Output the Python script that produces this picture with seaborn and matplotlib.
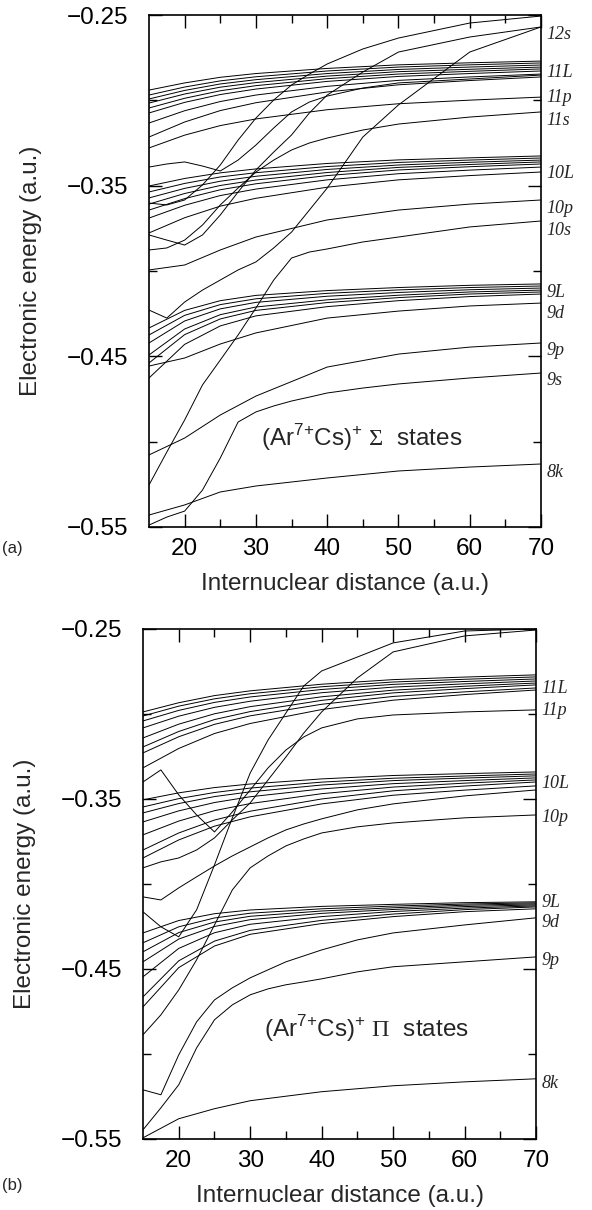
import matplotlib
matplotlib.use("Agg")
import matplotlib.pyplot as plt
import matplotlib.transforms as mtransforms
import pandas as pd
import seaborn as sns

# Internuclear distance grids (a.u.)
R_M = [15, 20, 25, 30, 40, 50, 60, 70]
R_S = [15, 17.5, 20, 22.5, 25, 27.5, 30, 32.5, 35, 37.5, 40, 45, 50, 60, 70]

# ---------------- (a) Sigma states (energies in a.u.) ----------------
SIGMA_N11 = [
    [-0.2940, -0.2898, -0.2865, -0.2843, -0.2813, -0.2792, -0.2780, -0.2770],
    [-0.2969, -0.2922, -0.2886, -0.2862, -0.2828, -0.2805, -0.2792, -0.2781],
    [-0.2992, -0.2942, -0.2904, -0.2879, -0.2843, -0.2819, -0.2805, -0.2793],
    [-0.3016, -0.2963, -0.2923, -0.2896, -0.2858, -0.2832, -0.2818, -0.2805],
    [-0.3045, -0.2988, -0.2944, -0.2914, -0.2873, -0.2846, -0.2830, -0.2816],
    [-0.3074, -0.3012, -0.2966, -0.2934, -0.2889, -0.2860, -0.2843, -0.2828],
    [-0.3133, -0.3061, -0.3007, -0.2969, -0.2918, -0.2883, -0.2863, -0.2846],
    [-0.3215, -0.3127, -0.3060, -0.3014, -0.2951, -0.2909, -0.2884, -0.2863],
    [-0.3279, -0.3204, -0.3148, -0.3109, -0.3055, -0.3020, -0.2999, -0.2981],
]
SIGMA_N10 = [
    [-0.3502, -0.3458, -0.3425, -0.3402, -0.3370, -0.3349, -0.3337, -0.3326],
    [-0.3537, -0.3487, -0.3449, -0.3424, -0.3388, -0.3364, -0.3350, -0.3338],
    [-0.3572, -0.3516, -0.3474, -0.3445, -0.3405, -0.3379, -0.3363, -0.3350],
    [-0.3608, -0.3546, -0.3499, -0.3467, -0.3423, -0.3393, -0.3376, -0.3361],
    [-0.3643, -0.3576, -0.3524, -0.3489, -0.3441, -0.3408, -0.3389, -0.3373],
    [-0.3690, -0.3615, -0.3558, -0.3520, -0.3466, -0.3430, -0.3409, -0.3391],
    [-0.3777, -0.3688, -0.3620, -0.3574, -0.3509, -0.3466, -0.3441, -0.3420],
    [-0.3994, -0.3965, -0.3877, -0.3801, -0.3701, -0.3643, -0.3608, -0.3584],
]
SIGMA_N9 = [
    [-0.4334, -0.4231, -0.4174, -0.4143, -0.4115, -0.4097, -0.4084, -0.4076],
    [-0.4375, -0.4260, -0.4197, -0.4163, -0.4131, -0.4111, -0.4097, -0.4088],
    [-0.4422, -0.4293, -0.4222, -0.4184, -0.4148, -0.4126, -0.4110, -0.4100],
    [-0.4492, -0.4340, -0.4256, -0.4211, -0.4169, -0.4142, -0.4123, -0.4112],
    [-0.4539, -0.4373, -0.4281, -0.4231, -0.4185, -0.4156, -0.4135, -0.4123],
    [-0.4627, -0.4430, -0.4322, -0.4263, -0.4209, -0.4174, -0.4150, -0.4135],
    [-0.4557, -0.4510, -0.4428, -0.4363, -0.4276, -0.4235, -0.4205, -0.4188],
    [-0.5078, -0.4979, -0.4844, -0.4733, -0.4563, -0.4487, -0.4446, -0.4422],
]
SIGMA_8K = [-0.5430, -0.5371, -0.5295, -0.5260, -0.5213, -0.5172, -0.5149, -0.5131]
SIGMA_STEEP = [
    [-0.5489, -0.5442, -0.5407, -0.5284, -0.5096, -0.4885, -0.4826, -0.4791,
     -0.4762, -0.4739, -0.4715, -0.4686, -0.4662, -0.4627, -0.4598],
    [-0.5254, -0.5061, -0.4873, -0.4668, -0.4522, -0.4375, -0.4217, -0.4053,
     -0.3924, -0.3889, -0.3871, -0.3830, -0.3801, -0.3742, -0.3707],
    [-0.3877, -0.3865, -0.3819, -0.3731, -0.3613, -0.3514, -0.3420, -0.3350,
     -0.3291, -0.3250, -0.3221, -0.3174, -0.3139, -0.3098, -0.3068],
    [-0.3391, -0.3373, -0.3361, -0.3385, -0.3414, -0.3350, -0.3262, -0.3162,
     -0.3068, -0.3010, -0.2975, -0.2928, -0.2898, -0.2875, -0.2852],
    [-0.3602, -0.3613, -0.3584, -0.3496, -0.3379, -0.3233, -0.3104, -0.2998,
     -0.2910, -0.2846, -0.2787, -0.2699, -0.2635, -0.2547, -0.2506],
    [-0.3789, -0.3819, -0.3848, -0.3789, -0.3672, -0.3537, -0.3408, -0.3303,
     -0.3203, -0.3074, -0.2969, -0.2834, -0.2717, -0.2629, -0.2570],
    [-0.4229, -0.4276, -0.4182, -0.4112, -0.4053, -0.3994, -0.3947, -0.3865,
     -0.3772, -0.3643, -0.3514, -0.3215, -0.3027, -0.2717, -0.2570],
]
SIGMA_LABELS = ["12s", "11L", "11p", "11s", "10L", "10p", "10s",
                "9L", "9d", "9p", "9s", "8k"]
SIGMA_LABEL_E = [-0.2641, -0.2863, -0.3010, -0.3145, -0.3455, -0.3660, -0.3789,
                 -0.4153, -0.4276, -0.4492, -0.4668, -0.5207]

# ---------------- (b) Pi states (energies in a.u.) ----------------
PI_N11 = [
    [-0.2988, -0.2934, -0.2892, -0.2864, -0.2825, -0.2798, -0.2783, -0.2770],
    [-0.3012, -0.2954, -0.2911, -0.2881, -0.2840, -0.2812, -0.2796, -0.2782],
    [-0.3041, -0.2979, -0.2932, -0.2900, -0.2856, -0.2826, -0.2809, -0.2794],
    [-0.3082, -0.3013, -0.2961, -0.2925, -0.2875, -0.2842, -0.2823, -0.2806],
    [-0.3141, -0.3060, -0.2999, -0.2957, -0.2899, -0.2860, -0.2837, -0.2818],
    [-0.3194, -0.3103, -0.3033, -0.2986, -0.2920, -0.2876, -0.2851, -0.2829],
    [-0.3229, -0.3134, -0.3061, -0.3011, -0.2943, -0.2897, -0.2870, -0.2847],
    [-0.3317, -0.3203, -0.3115, -0.3056, -0.2974, -0.2919, -0.2886, -0.2859],
]
PI_N10 = [
    [-0.3505, -0.3464, -0.3433, -0.3412, -0.3382, -0.3362, -0.3351, -0.3341],
    [-0.3547, -0.3498, -0.3462, -0.3436, -0.3401, -0.3378, -0.3365, -0.3353],
    [-0.3582, -0.3527, -0.3486, -0.3458, -0.3418, -0.3392, -0.3377, -0.3364],
    [-0.3635, -0.3570, -0.3521, -0.3487, -0.3441, -0.3410, -0.3392, -0.3376],
    [-0.3711, -0.3630, -0.3569, -0.3527, -0.3469, -0.3430, -0.3407, -0.3388],
    [-0.3800, -0.3700, -0.3624, -0.3572, -0.3500, -0.3452, -0.3424, -0.3400],
    [-0.3847, -0.3741, -0.3660, -0.3605, -0.3529, -0.3478, -0.3448, -0.3423],
]
PI_N9 = [
    [-0.4288, -0.4215, -0.4175, -0.4153, -0.4132, -0.4120, -0.4110, -0.4105],
    [-0.4346, -0.4252, -0.4200, -0.4172, -0.4146, -0.4130, -0.4118, -0.4111],
    [-0.4399, -0.4286, -0.4224, -0.4190, -0.4159, -0.4140, -0.4125, -0.4117],
    [-0.4458, -0.4324, -0.4250, -0.4210, -0.4173, -0.4150, -0.4133, -0.4123],
    [-0.4546, -0.4379, -0.4287, -0.4237, -0.4192, -0.4162, -0.4142, -0.4129],
    [-0.4664, -0.4452, -0.4336, -0.4273, -0.4214, -0.4177, -0.4151, -0.4135],
    [-0.4723, -0.4492, -0.4365, -0.4296, -0.4233, -0.4192, -0.4163, -0.4146],
]
PI_8K = [-0.5493, -0.5381, -0.5322, -0.5275, -0.5222, -0.5187, -0.5164, -0.5146]
PI_STEEP = [
    [-0.4887, -0.4770, -0.4623, -0.4446, -0.4241, -0.4035, -0.3905, -0.3835,
     -0.3776, -0.3735, -0.3700, -0.3664, -0.3641, -0.3611, -0.3594],
    [-0.4076, -0.4094, -0.4023, -0.3958, -0.3894, -0.3835, -0.3782, -0.3729,
     -0.3682, -0.3647, -0.3617, -0.3564, -0.3529, -0.3482, -0.3447],
    [-0.5211, -0.5240, -0.5005, -0.4811, -0.4682, -0.4611, -0.4552, -0.4505,
     -0.4458, -0.4423, -0.4388, -0.4329, -0.4288, -0.4241, -0.4199],
    [-0.5446, -0.5317, -0.5181, -0.4964, -0.4799, -0.4711, -0.4652, -0.4617,
     -0.4593, -0.4576, -0.4558, -0.4517, -0.4487, -0.4458, -0.4429],
    [-0.4164, -0.4252, -0.4311, -0.4152, -0.3888, -0.3611, -0.3347, -0.3153,
     -0.2994, -0.2835, -0.2747, -0.2665, -0.2582, -0.2512, -0.2500],
    [-0.3905, -0.3870, -0.3847, -0.3800, -0.3729, -0.3623, -0.3523, -0.3388,
     -0.3253, -0.3112, -0.2988, -0.2788, -0.2635, -0.2541, -0.2506],
    [-0.3400, -0.3329, -0.3476, -0.3594, -0.3694, -0.3576, -0.3447, -0.3317,
     -0.3212, -0.3135, -0.3082, -0.3029, -0.3006, -0.2988, -0.2976],
]
PI_LABELS = ["11L", "11p", "10L", "10p", "9L", "9d", "9p", "8k"]
PI_LABEL_E = [-0.2876, -0.3006, -0.3435, -0.3635, -0.4135, -0.4252, -0.4476, -0.5199]

X_TICKS = [20, 30, 40, 50, 60, 70]
X_MINOR = [25, 35, 45, 55, 65]
Y_TICKS = [-0.55, -0.45, -0.35, -0.25]
Y_TICKLABELS = ["\u22120.55", "\u22120.45", "\u22120.35", "\u22120.25"]
Y_MINOR = [-0.50, -0.40, -0.30]


def long_frame(groups):
    rows = []
    cid = 0
    for xs, curves in groups:
        for c in curves:
            for x, e in zip(xs, c):
                rows.append((cid, x, e))
            cid += 1
    return pd.DataFrame(rows, columns=["curve", "R", "E"])


sns.set_theme(style="ticks")
plt.rcParams["font.family"] = ["Liberation Sans", "DejaVu Sans"]
plt.rcParams["mathtext.fontset"] = "custom"
plt.rcParams["mathtext.rm"] = "Liberation Sans"
plt.rcParams["mathtext.sf"] = "Liberation Serif"

FS = 17.5

fig = plt.figure(figsize=(5.92, 12.10), dpi=100)
ax_a = fig.add_axes([0.2517, 0.5645, 0.6622, 0.4231])
ax_b = fig.add_axes([0.2416, 0.0587, 0.6639, 0.4215])

panels = [
    (ax_a, long_frame([(R_M, SIGMA_N11), (R_M, SIGMA_N10), (R_M, SIGMA_N9),
                       (R_M, [SIGMA_8K]), (R_S, SIGMA_STEEP)]),
     SIGMA_LABELS, SIGMA_LABEL_E,
     (44.9, -0.5026, r"(Ar$^{7{+}}$Cs)$^{{+}}$ $\mathsf{\Sigma}$  states"), "(a)", 0.547),
    (ax_b, long_frame([(R_M, PI_N11), (R_M, PI_N10), (R_M, PI_N9),
                       (R_M, [PI_8K]), (R_S, PI_STEEP)]),
     PI_LABELS, PI_LABEL_E,
     (46.2, -0.4899, r"(Ar$^{7{+}}$Cs)$^{{+}}$ $\mathsf{\Pi}$  states"), "(b)", 0.020),
]

for ax, df, labels, label_e, ann, tag, tag_y in panels:
    sns.lineplot(data=df, x="R", y="E", units="curve", estimator=None,
                 sort=False, color="black", linewidth=0.7, ax=ax, legend=False)
    ax.set_xlim(15, 70)
    ax.set_ylim(-0.55, -0.25)
    ax.set_xticks(X_TICKS)
    ax.set_xticks(X_MINOR, minor=True)
    ax.set_yticks(Y_TICKS)
    ax.set_yticklabels(Y_TICKLABELS)
    ax.set_yticks(Y_MINOR, minor=True)
    ax.tick_params(which="both", direction="in", top=True, right=True,
                   width=1.0, colors="black")
    ax.tick_params(which="major", length=9.5)
    ax.tick_params(which="minor", length=6)
    ax.tick_params(axis="y", which="major", pad=15, labelsize=FS)
    ax.tick_params(axis="x", which="major", pad=8, labelsize=FS)
    for sp in ax.spines.values():
        sp.set_linewidth(1.2)
        sp.set_color("black")
    ax.set_xlabel("Internuclear distance (a.u.)", fontsize=FS, labelpad=9)
    ax.set_ylabel("Electronic energy (a.u.)", fontsize=FS, labelpad=18)
    trans = mtransforms.blended_transform_factory(ax.transAxes, ax.transData)
    for lab, e in zip(labels, label_e):
        ax.text(1.013, e, lab, transform=trans, fontsize=13,
                family="Liberation Serif", style="italic",
                ha="left", va="baseline", clip_on=False)
    ax.text(ann[0], ann[1], ann[2], ha="center", va="baseline", fontsize=FS)
    fig.text(0.004, tag_y, tag, fontsize=12, ha="left", va="center")

fig.savefig("out.png", dpi=100)
